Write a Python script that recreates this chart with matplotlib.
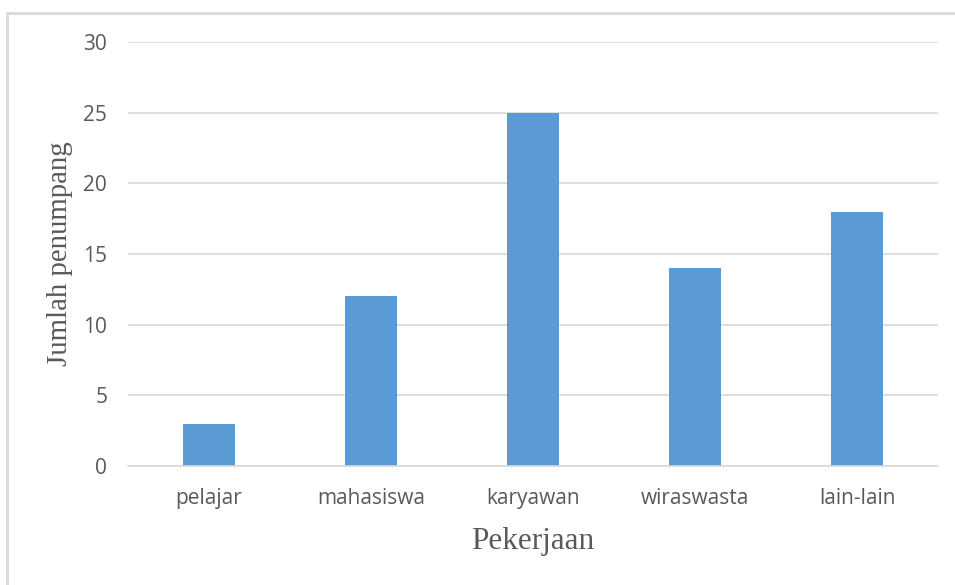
import matplotlib
matplotlib.use("Agg")
import matplotlib.pyplot as plt
from matplotlib.patches import Rectangle

categories = ["pelajar", "mahasiswa", "karyawan", "wiraswasta", "lain-lain"]
values = [3, 12, 25, 14, 18]
yticks = [0, 5, 10, 15, 20, 25, 30]

W, H = 955, 585
fig = plt.figure(figsize=(W / 100, H / 100), dpi=100)
fig.patch.set_facecolor("white")

# outer chart frame
fig.patches.append(Rectangle((7 / W, -0.05), 1.1, 1 - 13 / H + 0.05,
                             transform=fig.transFigure, fill=False,
                             edgecolor="#D9D9D9", linewidth=2))

ax = fig.add_axes([128 / W, 1 - 466 / H, (938 - 128) / W, (466 - 42) / H])
x = range(len(categories))
ax.bar(x, values, width=0.315, color="#5B9BD5", zorder=3)
ax.set_xlim(-0.5, len(categories) - 0.5)
ax.set_ylim(0, 30)
ax.set_yticks(yticks)
ax.set_xticks(list(x))
ax.set_xticklabels(categories)

ax.grid(axis="y", color="#D9D9D9", linewidth=1.2, zorder=0)
for s in ["top", "right", "left"]:
    ax.spines[s].set_visible(False)
ax.spines["bottom"].set_color("#D9D9D9")
ax.spines["bottom"].set_linewidth(1.2)
ax.spines["bottom"].set_zorder(4)
ax.tick_params(axis="both", length=0, labelcolor="#595959", labelsize=15)
ax.tick_params(axis="y", pad=15)
ax.tick_params(axis="x", pad=16)
for lbl in ax.get_xticklabels() + ax.get_yticklabels():
    lbl.set_family("Open Sans")

ax.set_xlabel("Pekerjaan", family="Liberation Serif", fontsize=22.5,
              color="#595959")
ax.set_ylabel("Jumlah penumpang", family="Liberation Serif", fontsize=20.7,
              color="#595959")
ax.xaxis.set_label_coords(0.5, -0.178)
ax.yaxis.set_label_coords(-0.084, 0.5)
for lab in (ax.xaxis.label, ax.yaxis.label):
    lab.set_ha("center")
    lab.set_va("center")
    lab.set_rotation_mode("anchor")

fig.savefig("out.png", dpi=100, facecolor="white")
